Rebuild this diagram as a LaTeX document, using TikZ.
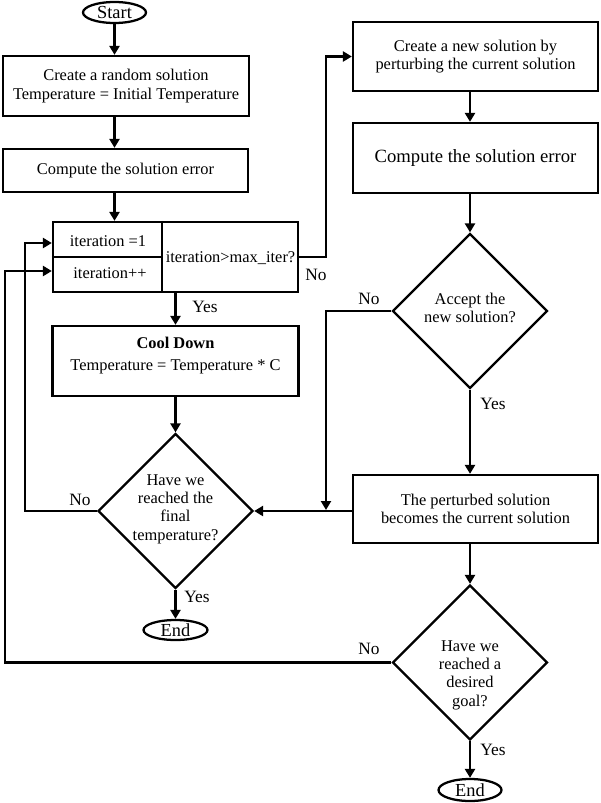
\documentclass[tikz,border=0pt]{standalone}
\usepackage{fontspec}
\setmainfont{Liberation Serif}
\usetikzlibrary{arrows.meta,shapes.geometric}
\begin{document}
\begin{tikzpicture}[x=0.75pt,y=-0.75pt,
  every node/.style={font=\fontsize{12.3}{13.8}\selectfont},
  sz/.style 2 args={minimum width=#1*0.75pt, minimum height=#2*0.75pt},
  box/.style={draw, line width=1.7pt, inner sep=0pt, align=center},
  txt/.style={align=center, inner sep=0pt},
  dia/.style={draw, diamond, line width=1.7pt, inner sep=0pt, aspect=1, minimum width=#1*0.75pt, minimum height=#1*0.75pt},
  term/.style={draw, ellipse, line width=1.7pt, inner sep=0pt, font=\fontsize{13.8}{15}\selectfont},
  lab/.style={inner sep=0pt, font=\fontsize{13}{15}\selectfont},
  arr/.style={-{Triangle[length=6.75pt,width=7.5pt]}, line width=1.7pt},
]
\useasboundingbox (0,0) rectangle (600,803);
% left column
\node[term, sz={63}{21}] (start) at (114.5,12.5) {Start};
\node[box, sz={246}{60}] (b1) at (126,86) {Create a random solution\\Temperature = Initial Temperature};
\node[box, sz={245}{43}] (b2) at (125.5,170.5) {Compute the solution error};
\node[box, sz={245}{70}] (it) at (175.5,257) {};
\draw[line width=0.8pt] (it.north -| 162,0) -- (it.south -| 162,0);
\draw[line width=0.8pt] (it.west) -- (162,257);
\node[txt] (itA) at (108,241) {iteration =1};
\node[txt] (itB) at (110,273) {iteration++};
\node[txt] (itC) at (230.5,258) {iteration>max\_iter?};
\node[box, sz={246}{70}] (cd) at (175.5,361) {};
\node[txt, font=\fontsize{12.3}{16.5}\selectfont] (cdt) at (175.5,356) {\textbf{Cool Down}\\Temperature = Temperature * C};
\node[dia=155] (d2) at (175.5,511) {};
\node[txt] (d2t) at (175.5,509) {Have we\\reached the\\final\\temperature?};
\node[term, sz={64}{20}] (e1) at (175.5,630) {End};
% right column
\node[box, sz={245}{69}] (b3) at (475.5,56.5) {Create a new solution by\\perturbing the current solution};
\node[box, sz={245}{70}, font=\fontsize{14}{15}\selectfont] (b4) at (475.5,158) {Compute the solution error};
\node[dia=155] (d1) at (470,311) {};
\node[txt] (d1t) at (470,308) {Accept the\\new solution?};
\node[box, sz={245}{68}] (b5) at (475.5,509) {The perturbed solution\\becomes the current solution};
\node[dia=155] (d3) at (470,662.5) {};
\node[txt] (d3t) at (470,675) {Have we\\reached a\\desired\\goal?};
\node[term, sz={63}{22}] (e2) at (470,790) {End};
% corner coordinates
\coordinate (xa) at (25,243);
\coordinate (xb) at (5,271);
\coordinate (xc) at (326,56.5);
\coordinate (xd) at (326,510);
% connectors
\draw[arr] (start.south) -- (start.south |- b1.north);
\draw[arr] (start |- b1.south) -- (start |- b2.north);
\draw[arr] (start |- b2.south) -- (start |- it.north);
\draw[arr] (cd |- it.south) -- (cd.north);
\draw[arr] (cd.south) -- (d2.north);
\draw[arr] (d2.south) -- (e1.north);
\draw[arr] (d2.west) -| (xa) -- (xa -| it.west);
\draw[arr] (d3.west) -| (xb) -- (xb -| it.west);
\draw[arr] (it.east) -| (xc) -- (b3.west);
\draw[arr] (d1 |- b3.south) -- (d1 |- b4.north);
\draw[arr] (d1 |- b4.south) -- (d1.north);
\draw[arr] (d1.south) -- (d1 |- b5.north);
\draw[arr] (d1.west) -| (xd);
\draw[arr] (b5.west |- d2.east) -- (d2.east);
\draw[arr] (d3 |- b5.south) -- (d3.north);
\draw[arr] (d3.south) -- (e2.north);
% labels
\node[lab] (nA) at (316,275) {No};
\node[lab] (yA) at (205,307) {Yes};
\node[lab] (nB) at (80,500) {No};
\node[lab] (yB) at (197,597) {Yes};
\node[lab] (nC) at (369,299) {No};
\node[lab] (yC) at (493,404) {Yes};
\node[lab] (nD) at (369,649) {No};
\node[lab] (yD) at (493,750) {Yes};
\end{tikzpicture}
\end{document}
